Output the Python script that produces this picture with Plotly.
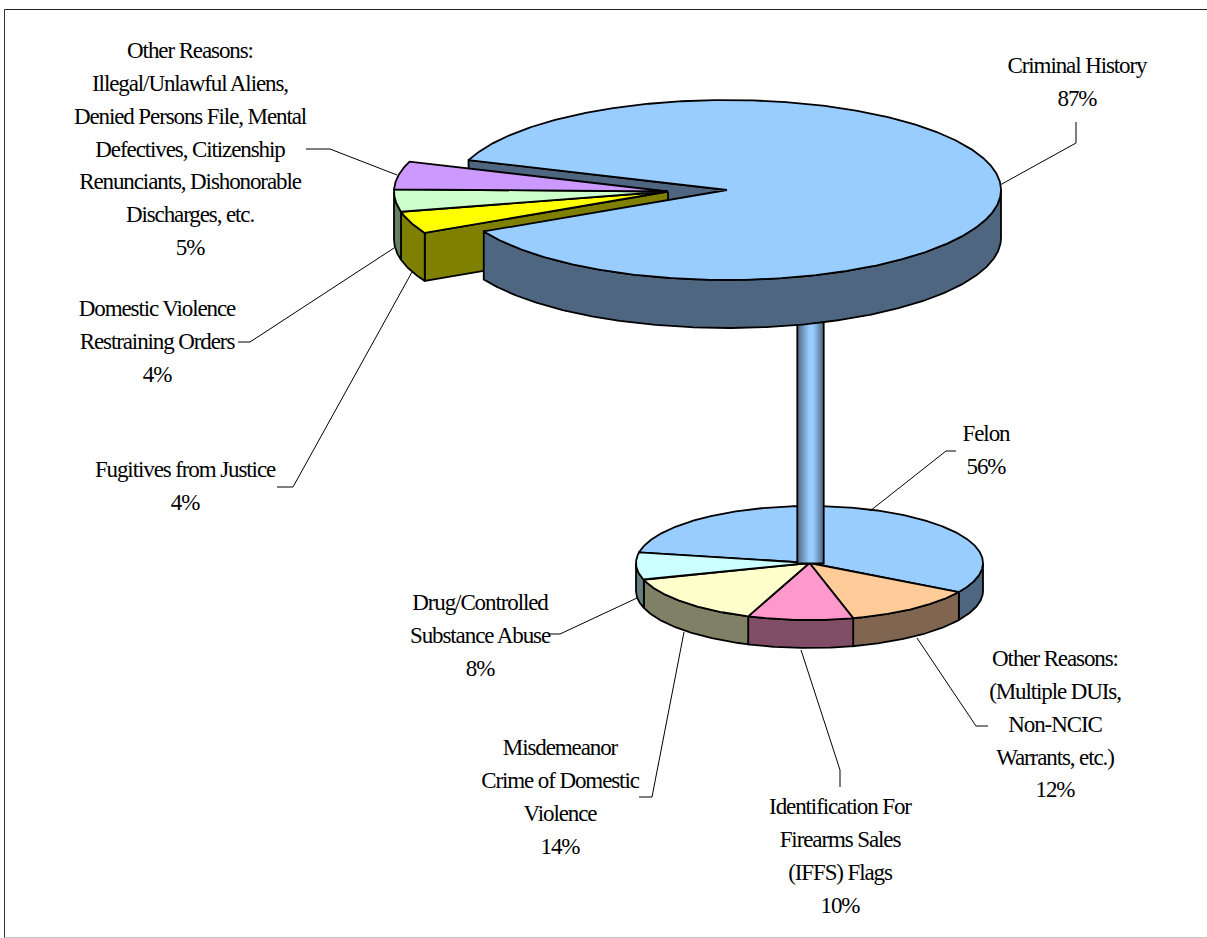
import numpy as np
import plotly.graph_objects as go

# ---------- data ----------
top_labels = ["Criminal History", "Fugitives from Justice", "Domestic Violence\nRestraining Orders",
              "Other Reasons:\nIllegal/Unlawful Aliens,\nDenied Persons File, Mental\nDefectives, Citizenship\nRenunciants, Dishonorable\nDischarges, etc."]
top_values = [87, 4, 4, 5]
top_colors = ["#99CCFF", "#FFFF00", "#CCFFCC", "#CC99FF"]
top_sides = ["#4F6680", "#808000", "#668066", "#66508A"]

bottom_labels = ["Felon", "Other Reasons:\n(Multiple DUIs,\nNon-NCIC\nWarrants, etc.)",
                 "Identification For\nFirearms Sales\n(IFFS) Flags", "Misdemeanor\nCrime of Domestic\nViolence",
                 "Drug/Controlled\nSubstance Abuse"]
bottom_values = [55.5, 12.45, 9.8, 14.45, 7.8]
bottom_colors = ["#99CCFF", "#FFCC99", "#FF99CC", "#FFFFCC", "#CCFFFF"]
bottom_sides = ["#4F6680", "#806650", "#804D66", "#808066", "#668080"]

# ---------- layout of the picture (pixels) ----------
TOP = dict(cx=727, cy=190, rx=274, ry=90, d=48, start=199.4)
EXPLODED_CENTER = (668, 191.5)
BOT = dict(cx=809.5, cy=563, rx=173.5, ry=57, d=28, start=190.8)
STEM_X = (797.3, 823.7)
STEM_Y = (300, 563.5)
LW = 1.8

label_pos_top = [(1077, 67.5), (185, 471.5), (157, 310.5), (190, 52.5)]
label_pos_bottom = [(986, 435.5), (1055, 660.5), (840, 808.5), (560, 749.5), (480, 604.5)]
LINE_H = 32.8

leaders = [
    [(1000, 185), (1076, 143), (1076, 122)],
    [(397, 175), (330, 149), (306, 149)],
    [(394, 248), (250, 342), (238, 342)],
    [(412, 272), (293, 487), (277, 487)],
    [(870, 511), (946, 451), (956, 451)],
    [(637, 598), (560, 634), (549, 634)],
    [(684, 632), (652, 797), (639, 797)],
    [(801, 650), (840, 770), (840, 787)],
    [(917, 638), (976, 726), (988, 726)],
]


def arc(cx, cy, rx, ry, t0, t1):
    n = max(2, int(abs(t1 - t0) * 2) + 1)
    t = np.radians(np.linspace(t0, t1, n))
    return cx + rx * np.cos(t), cy + ry * np.sin(t)


def poly(x, y, color, **kw):
    return go.Scatter(x=list(x) + [x[0]], y=list(y) + [y[0]], mode="lines", fill="toself",
                      fillcolor=color, line=dict(color="black", width=LW, shape="linear"),
                      hoverinfo="skip", showlegend=False, **kw)


def wedge(cx, cy, rx, ry, t0, t1, color):
    ax, ay = arc(cx, cy, rx, ry, t0, t1)
    return poly(np.r_[cx, ax], np.r_[cy, ay], color)


def wall(cx, cy, rx, ry, d, t0, t1, color):
    out = []
    for k in (0, 360):
        a, b = max(t0, k), min(t1, k + 180)
        if b > a:
            ax, ay = arc(cx, cy, rx, ry, a, b)
            out.append(poly(np.r_[ax, ax[::-1]], np.r_[ay, (ay + d)[::-1]], color))
    return out


def face(cx, cy, px, py, d, color):
    return poly([cx, px, px, cx], [cy, py, py + d, cy + d], color)


def spans(values, start):
    v = np.array(values, float)
    edges = start + np.r_[0, np.cumsum(v)] / v.sum() * 360
    return list(zip(edges[:-1], edges[1:]))


traces = []
tspans = spans(top_values, TOP["start"])
bspans = spans(bottom_values, BOT["start"])
T = TOP
ex, ey = EXPLODED_CENTER

# small pie (bottom)
for (a, b), s in zip(bspans, bottom_sides):
    traces += wall(BOT["cx"], BOT["cy"], BOT["rx"], BOT["ry"], BOT["d"], a, b, s)
for (a, b), c in zip(bspans, bottom_colors):
    traces.append(wedge(BOT["cx"], BOT["cy"], BOT["rx"], BOT["ry"], a, b, c))

# stem
stem = go.Scatter(x=[STEM_X[0], STEM_X[1], STEM_X[1], STEM_X[0], STEM_X[0]],
                  y=[STEM_Y[0], STEM_Y[0], STEM_Y[1], STEM_Y[1], STEM_Y[0]],
                  mode="lines", fill="toself", line=dict(color="black", width=LW),
                  fillgradient=dict(type="horizontal",
                                    colorscale=[[0, "#4F6680"], [0.45, "#99CCFF"], [0.6, "#99CCFF"], [1, "#4F6680"]]),
                  hoverinfo="skip", showlegend=False)
traces.append(stem)

# back cut face of the big slice
t0, t1 = tspans[0]
px, py = arc(T["cx"], T["cy"], T["rx"], T["ry"], t0, t0 + 0.01)
traces.append(face(T["cx"], T["cy"], px[0], py[0], T["d"], top_sides[0]))

# exploded slices: cut face, walls, tops
a0 = tspans[1][0]
px, py = arc(ex, ey, T["rx"], T["ry"], a0, a0 + 0.01)
traces.append(face(ex, ey, px[0], py[0], T["d"], top_sides[1]))
for (a, b), s in zip(tspans[1:], top_sides[1:]):
    traces += wall(ex, ey, T["rx"], T["ry"], T["d"], a, b, s)
for (a, b), c in zip(tspans[1:], top_colors[1:]):
    traces.append(wedge(ex, ey, T["rx"], T["ry"], a, b, c))

# big slice wall and top
traces += wall(T["cx"], T["cy"], T["rx"], T["ry"], T["d"], t0, t1, top_sides[0])
traces.append(wedge(T["cx"], T["cy"], T["rx"], T["ry"], t0, t1, top_colors[0]))

# leader lines
for pts in leaders:
    traces.append(go.Scatter(x=[p[0] for p in pts], y=[p[1] for p in pts], mode="lines",
                             line=dict(color="black", width=1), hoverinfo="skip", showlegend=False))

# labels
tx, ty, tt = [], [], []
for labs, vals, poss in ((top_labels, top_values, label_pos_top), (bottom_labels, bottom_values, label_pos_bottom)):
    total = sum(vals)
    for lab, v, (x, y) in zip(labs, vals, poss):
        lines = lab.split("\n") + [f"{round(v / total * 100)}%"]
        for i, line in enumerate(lines):
            tx.append(x)
            ty.append(y + i * LINE_H)
            tt.append(line)
traces.append(go.Scatter(x=tx, y=ty, text=tt, mode="text", textposition="middle center",
                         textfont=dict(family="Liberation Serif", size=23, color="black"),
                         hoverinfo="skip", showlegend=False))

fig = go.Figure(traces)
fig.update_layout(
    width=1207, height=938, margin=dict(l=0, r=0, t=0, b=0),
    paper_bgcolor="white", plot_bgcolor="white", showlegend=False,
    xaxis=dict(range=[0, 1207], visible=False, fixedrange=True),
    yaxis=dict(range=[938, 0], visible=False, fixedrange=True),
    shapes=[
        dict(type="line", x0=4.5, x1=4.5, y0=9.5, y1=938, line=dict(color="#333333", width=1), layer="below"),
        dict(type="line", x0=4.5, x1=1207, y0=9.5, y1=9.5, line=dict(color="#222222", width=1), layer="below"),
        dict(type="line", x0=4.5, x1=1207, y0=937.5, y1=937.5, line=dict(color="#C8C8C8", width=1), layer="below"),
    ],
)
post = """
document.body.style.margin='0';
document.body.style.overflow='hidden';
var st=document.createElement('style');
st.textContent='.textpoint text{letter-spacing:-1.1px;}';
document.head.appendChild(st);
"""
fig.write_html("out.html", post_script=post, config=dict(displayModeBar=False))
